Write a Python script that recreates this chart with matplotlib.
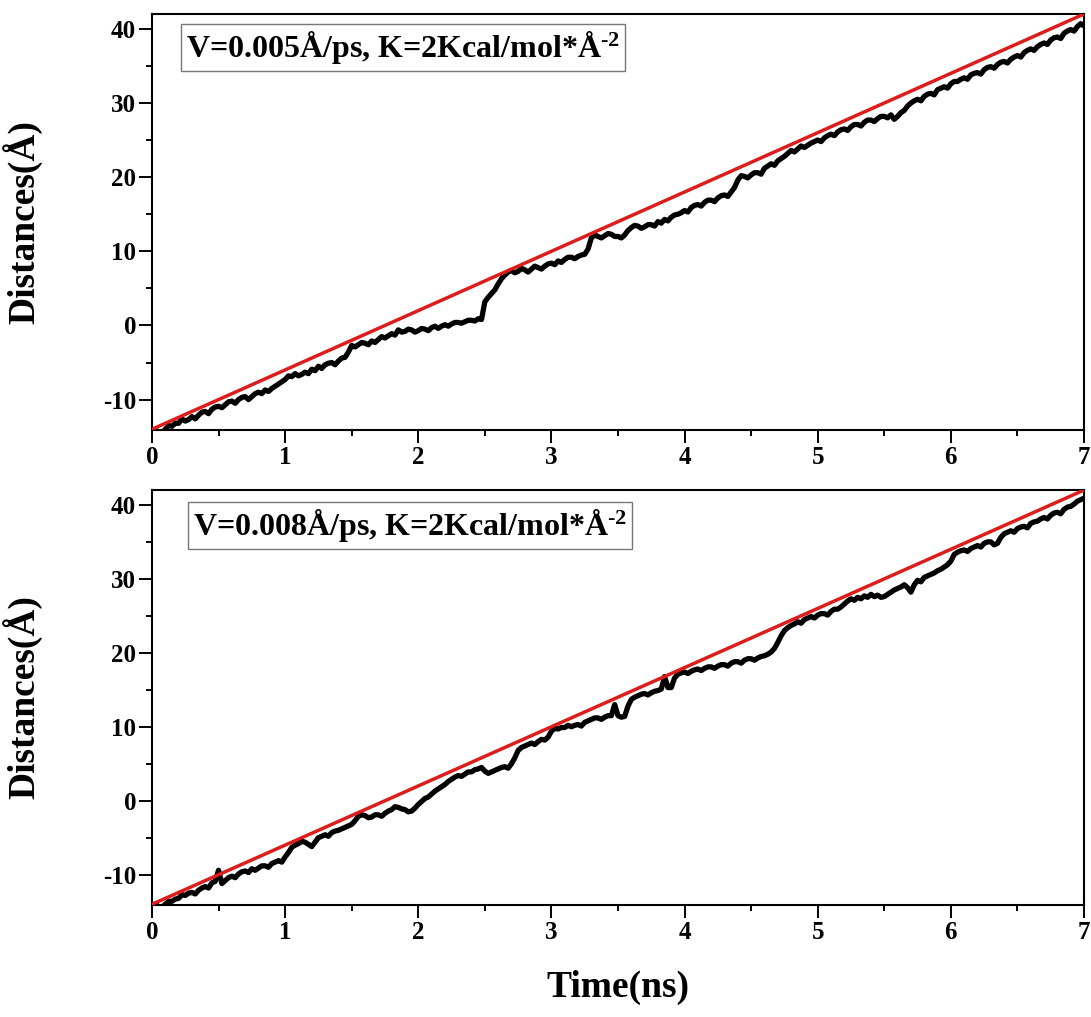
import numpy as np
import matplotlib
matplotlib.use("Agg")
import matplotlib.pyplot as plt
from matplotlib.ticker import MultipleLocator

plt.rcParams['font.family'] = ['Liberation Serif', 'DejaVu Serif']
plt.rcParams['font.weight'] = 'bold'
plt.rcParams['axes.unicode_minus'] = False
plt.rcParams['mathtext.fontset'] = 'custom'
plt.rcParams['mathtext.rm'] = 'Liberation Serif'
plt.rcParams['mathtext.bf'] = 'Liberation Serif:bold'
plt.rcParams['mathtext.default'] = 'bf'

# time axis (ns), sampled every 0.025 ns
time_ns = np.round(np.arange(0, 7.0001, 0.025), 3)

# pulling reference (spring anchor) position, same for both runs
anchor_t = [0.0, 7.0]
anchor_d = [-14.0, 42.0]

# COM distance, v = 0.005 A/ps
dist_v005 = [
    -14.3, -14.1, -14.4, -14.5, -14.0, -13.5, -13.6, -13.2, -13.2, -12.6,
    -12.9, -12.7, -12.3, -12.6, -12.1, -11.7, -11.6, -11.9, -11.3, -11.0,
    -10.9, -11.1, -10.7, -10.3, -10.2, -10.5, -10.0, -9.7, -9.6, -10.0,
    -9.6, -9.2, -9.0, -9.2, -8.7, -8.9, -8.5, -8.2, -7.9, -7.6,
    -7.3, -6.8, -6.9, -6.5, -6.8, -6.6, -6.3, -6.5, -5.9, -6.1,
    -5.5, -5.8, -5.3, -5.1, -5.0, -5.3, -4.8, -4.4, -4.3, -3.6,
    -2.7, -2.9, -2.6, -2.3, -2.4, -2.6, -2.1, -2.3, -1.9, -1.5,
    -1.7, -1.4, -1.1, -1.3, -0.6, -0.9, -0.8, -0.5, -0.6, -0.9,
    -0.7, -0.4, -0.5, -0.7, -0.3, -0.1, -0.4, -0.1, 0.1, -0.1,
    0.2, 0.4, 0.4, 0.3, 0.5, 0.7, 0.7, 0.6, 0.9, 0.8,
    3.2, 3.8, 4.3, 4.8, 5.6, 6.3, 6.8, 7.2, 7.4, 7.1,
    7.3, 7.7, 7.5, 7.2, 7.6, 8.0, 7.8, 7.6, 8.0, 8.3,
    8.4, 8.2, 8.7, 8.5, 8.9, 9.2, 9.2, 9.0, 9.3, 9.5,
    9.6, 10.3, 11.8, 12.2, 12.0, 11.8, 12.1, 12.4, 12.3, 12.0,
    12.0, 11.8, 12.2, 12.8, 13.2, 13.5, 13.4, 13.1, 13.3, 13.6,
    13.6, 13.4, 14.0, 13.8, 14.3, 14.1, 14.6, 14.9, 15.0, 15.2,
    15.5, 15.3, 15.9, 16.2, 16.3, 16.1, 16.6, 16.9, 16.9, 16.7,
    17.2, 17.5, 17.6, 17.4, 18.0, 18.6, 19.6, 20.2, 20.1, 19.9,
    20.3, 20.6, 20.6, 20.4, 21.2, 21.5, 21.8, 21.6, 22.2, 22.5,
    22.8, 23.2, 23.6, 23.4, 23.8, 24.2, 24.0, 24.3, 24.6, 24.8,
    25.0, 24.8, 25.3, 25.6, 25.8, 25.6, 26.1, 26.4, 26.5, 26.3,
    26.8, 27.1, 27.1, 26.9, 27.4, 27.7, 27.7, 27.5, 27.9, 28.2,
    28.2, 28.0, 28.4, 27.8, 28.2, 28.7, 29.0, 29.6, 30.0, 30.3,
    30.5, 30.3, 30.9, 31.2, 31.3, 31.1, 31.8, 32.0, 32.2, 32.0,
    32.6, 32.9, 32.9, 33.2, 33.4, 33.2, 33.8, 34.0, 34.1, 33.9,
    34.5, 34.8, 34.9, 34.7, 35.2, 35.5, 35.6, 35.4, 35.9, 36.2,
    36.4, 36.2, 36.8, 37.1, 37.3, 37.1, 37.6, 37.9, 38.1, 37.9,
    38.5, 38.8, 38.9, 38.7, 39.4, 39.7, 39.9, 39.7, 40.3, 40.7,
    40.4,
]

# COM distance, v = 0.008 A/ps
dist_v008 = [
    -14.2, -14.0, -14.3, -14.4, -14.0, -13.6, -13.6, -13.3, -13.2, -12.7,
    -12.8, -12.5, -12.4, -12.6, -12.1, -11.8, -11.6, -11.8, -11.1, -10.9,
    -9.4, -11.2, -10.8, -10.4, -10.2, -10.4, -9.9, -9.6, -9.5, -9.7,
    -9.2, -9.4, -9.1, -8.8, -8.8, -9.0, -8.5, -8.3, -8.1, -8.3,
    -7.6, -7.0, -6.3, -6.0, -5.8, -5.5, -5.6, -5.9, -6.2, -5.6,
    -5.0, -4.8, -4.6, -4.8, -4.3, -4.1, -4.0, -3.8, -3.6, -3.4,
    -3.2, -2.7, -2.1, -1.9, -2.0, -2.3, -2.2, -1.9, -1.9, -2.1,
    -1.7, -1.4, -1.2, -0.8, -0.9, -1.1, -1.2, -1.5, -1.4, -1.0,
    -0.5, -0.1, 0.3, 0.5, 0.9, 1.3, 1.6, 1.9, 2.2, 2.6,
    2.9, 3.2, 3.4, 3.3, 3.6, 3.9, 3.9, 4.2, 4.3, 4.5,
    4.0, 3.7, 3.9, 4.1, 4.3, 4.5, 4.6, 4.4, 5.0, 5.8,
    6.8, 7.2, 7.4, 7.6, 7.8, 7.6, 8.0, 8.3, 8.2, 8.6,
    9.4, 9.8, 9.7, 9.9, 9.9, 10.2, 10.0, 10.2, 10.3, 10.1,
    10.6, 10.8, 11.0, 11.2, 11.2, 11.0, 11.3, 11.5, 11.5, 13.0,
    11.5, 11.3, 11.4, 12.8, 13.7, 14.0, 14.2, 14.4, 14.5, 14.3,
    14.6, 14.8, 14.9, 15.1, 16.8, 15.3, 15.3, 16.6, 17.1, 17.3,
    17.4, 17.2, 17.5, 17.7, 17.8, 17.6, 17.9, 18.1, 18.1, 17.9,
    18.2, 18.4, 18.4, 18.2, 18.6, 18.8, 18.8, 18.6, 19.0, 19.2,
    19.2, 19.0, 19.3, 19.5, 19.6, 19.8, 20.1, 20.6, 21.4, 22.3,
    23.0, 23.4, 23.7, 23.9, 24.2, 24.0, 24.5, 24.7, 24.9, 24.7,
    25.1, 25.3, 25.3, 25.1, 25.6, 25.9, 25.9, 26.2, 26.6, 27.0,
    27.3, 27.1, 27.5, 27.3, 27.7, 27.5, 27.9, 27.6, 27.8, 27.5,
    27.6, 27.9, 28.2, 28.5, 28.7, 28.9, 29.2, 28.8, 28.2, 29.2,
    29.8, 29.6, 30.2, 30.4, 30.6, 30.8, 31.1, 31.3, 31.6, 31.9,
    32.4, 33.3, 33.6, 33.8, 33.9, 33.7, 34.1, 34.3, 34.5, 34.3,
    34.8, 35.0, 35.0, 34.6, 34.8, 35.6, 36.1, 36.3, 36.5, 36.3,
    36.8, 37.0, 37.1, 36.9, 37.5, 37.7, 37.8, 38.1, 38.3, 38.1,
    38.6, 38.9, 39.0, 38.8, 39.4, 39.7, 39.8, 40.1, 40.5, 40.7,
    40.9,
]

labels = [
    "V=0.005Å/ps, K=2Kcal/mol*Å$^{\u20102}$",
    "V=0.008Å/ps, K=2Kcal/mol*Å$^{\u20102}$",
]

fig = plt.figure(figsize=(10.91, 10.17), dpi=100)
ax_top = fig.add_axes([0.1393, 0.5772, 0.8543, 0.409])
ax_bot = fig.add_axes([0.1393, 0.1101, 0.8543, 0.408])

for ax, dist, lab, box_xy in [
    (ax_top, dist_v005, labels[0], (0.036, 0.92)),
    (ax_bot, dist_v008, labels[1], (0.044, 0.915)),
]:
    ax.plot(time_ns, dist, color='black', lw=3.8, zorder=2)
    ax.plot(anchor_t, anchor_d, color='#dd1c1c', lw=2.5, zorder=3)
    ax.set_xlim(0, 7)
    ax.set_ylim(-14.1, 42)
    ax.xaxis.set_major_locator(MultipleLocator(1))
    ax.xaxis.set_minor_locator(MultipleLocator(0.5))
    ax.yaxis.set_major_locator(MultipleLocator(10))
    ax.yaxis.set_minor_locator(MultipleLocator(5))
    ax.tick_params(which='major', direction='out', length=9.5, width=1.4,
                   labelsize=18, pad=2)
    ax.tick_params(which='minor', direction='out', length=4.5, width=1.4)
    for sp in ax.spines.values():
        sp.set_linewidth(1.5)
    for t in ax.get_xticklabels() + ax.get_yticklabels():
        t.set_fontweight('bold')
    ax.set_ylabel("Distances(Å)", fontsize=27, fontweight='bold')
    ax.yaxis.set_label_coords(-0.118, 0.5)
    ax.text(box_xy[0], box_xy[1], lab, transform=ax.transAxes, fontsize=23,
            fontweight='bold', va='center', ha='left',
            bbox=dict(boxstyle='square,pad=0.15', fc='white', ec='#777777', lw=1.0))

fig.text(0.5663, 0.029, "Time(ns)", fontsize=27, fontweight='bold',
         ha='center', va='center')

fig.savefig("out.png", dpi=100)
